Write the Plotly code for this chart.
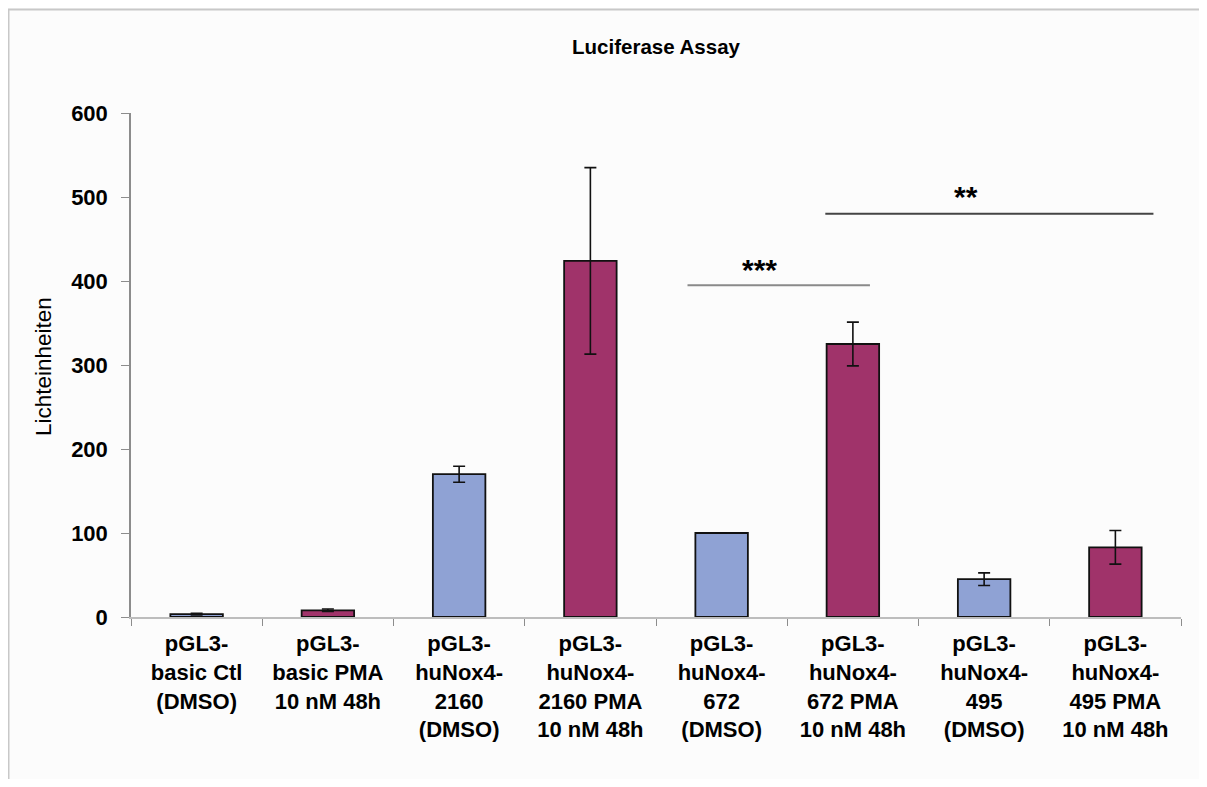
import plotly.graph_objects as go

categories = [
    "pGL3-<br>basic Ctl<br>(DMSO)",
    "pGL3-<br>basic PMA<br>10 nM 48h",
    "pGL3-<br>huNox4-<br>2160<br>(DMSO)",
    "pGL3-<br>huNox4-<br>2160 PMA<br>10 nM 48h",
    "pGL3-<br>huNox4-<br>672<br>(DMSO)",
    "pGL3-<br>huNox4-<br>672 PMA<br>10 nM 48h",
    "pGL3-<br>huNox4-<br>495<br>(DMSO)",
    "pGL3-<br>huNox4-<br>495 PMA<br>10 nM 48h",
]
values = [3.5, 8, 170, 424, 100, 325, 45, 83]
errors = [1.0, 1.5, 9.5, 111, 0, 26, 7.5, 20]
treatment = ["DMSO", "PMA", "DMSO", "PMA", "DMSO", "PMA", "DMSO", "PMA"]

y_ticks = [0, 100, 200, 300, 400, 500, 600]

# significance brackets (category index positions, data y levels)
sig_labels = ["***", "**"]
sig_x0 = [3.74, 4.79]
sig_x1 = [5.13, 7.29]
sig_y = [395, 480]
sig_label_x = [4.29, 5.86]
sig_label_y = [414, 501]
sig_colors = ["#8a8a8a", "#444444"]

color_map = {"DMSO": "#8FA2D4", "PMA": "#A0336A"}
bar_colors = [color_map[t] for t in treatment]

OFF = 8  # page body margin
W, H = 1207 - 2 * OFF, 787 - 2 * OFF
L, R, T, B = 131 - OFF, 1181 - OFF, 113 - OFF, 617 - OFF

def px_x(p):
    return (p - L) / (R - L)

def px_y(p):
    return (B - p) / (B - T)

fig = go.Figure()
fig.add_trace(go.Bar(
    x=categories, y=values,
    marker=dict(color=bar_colors, line=dict(color="#111111", width=1.8)),
    width=0.4,
    error_y=dict(type="data", array=errors, visible=True,
                 color="#111111", thickness=1.6, width=6),
    showlegend=False,
))

shapes = [
    dict(type="line", xref="paper", yref="paper",
         x0=px_x(0), x1=px_x(W + 10), y0=px_y(1.5), y1=px_y(1.5),
         line=dict(color="#C8C8C8", width=2)),
    dict(type="line", xref="paper", yref="paper",
         x0=px_x(0.5), x1=px_x(0.5), y0=px_y(1), y1=px_y(H + 10),
         line=dict(color="#C8C8C8", width=2)),
]
annotations = []
for lab, a, b, yv, lx, ly, c in zip(sig_labels, sig_x0, sig_x1, sig_y,
                                     sig_label_x, sig_label_y, sig_colors):
    shapes.append(dict(type="line", xref="x", yref="y", x0=a, x1=b, y0=yv, y1=yv,
                       line=dict(color=c, width=2)))
    annotations.append(dict(x=lx, y=ly, xref="x", yref="y", text=lab,
                            showarrow=False,
                            font=dict(family="Arial", size=30, color="#000000",
                                      weight="bold"),
                            xanchor="center", yanchor="middle"))

annotations.append(dict(x=px_x(43 - OFF), y=px_y(367 - OFF), xref="paper", yref="paper",
                        text="Lichteinheiten", textangle=-90, showarrow=False,
                        font=dict(family="Arial", size=22.5, color="#000000"),
                        xanchor="center", yanchor="middle"))

fig.update_layout(
    width=W, height=H,
    margin=dict(l=L, r=W - R, t=T, b=H - B, pad=0),
    paper_bgcolor="#FCFCFC",
    plot_bgcolor="#FCFCFC",
    title=dict(text="Luciferase Assay", x=0.5, xref="paper",
               y=1 - (47 - OFF) / H, yref="container", xanchor="center", yanchor="middle",
               font=dict(family="Arial", size=20.5, color="#000000", weight="bold")),
    shapes=shapes,
    annotations=annotations,
    bargap=0.6,
)
fig.update_xaxes(
    type="category",
    showline=True, linecolor="#BDBDBD", linewidth=2,
    ticks="outside", tickson="boundaries", ticklen=7, tickcolor="#8C8C8C",
    tickfont=dict(family="Arial", size=22, color="#000000", weight="bold"),
    ticklabelstandoff=6,
    showgrid=False, zeroline=False,
)
fig.update_yaxes(
    range=[0, 600], tickvals=y_ticks,
    showline=True, linecolor="#8C8C8C", linewidth=1.5,
    ticks="outside", ticklen=8, tickcolor="#8C8C8C",
    tickfont=dict(family="Arial", size=22, color="#000000", weight="bold"),
    ticklabelstandoff=9,
    showgrid=False, zeroline=False,
)

fig.write_html("out.html")
